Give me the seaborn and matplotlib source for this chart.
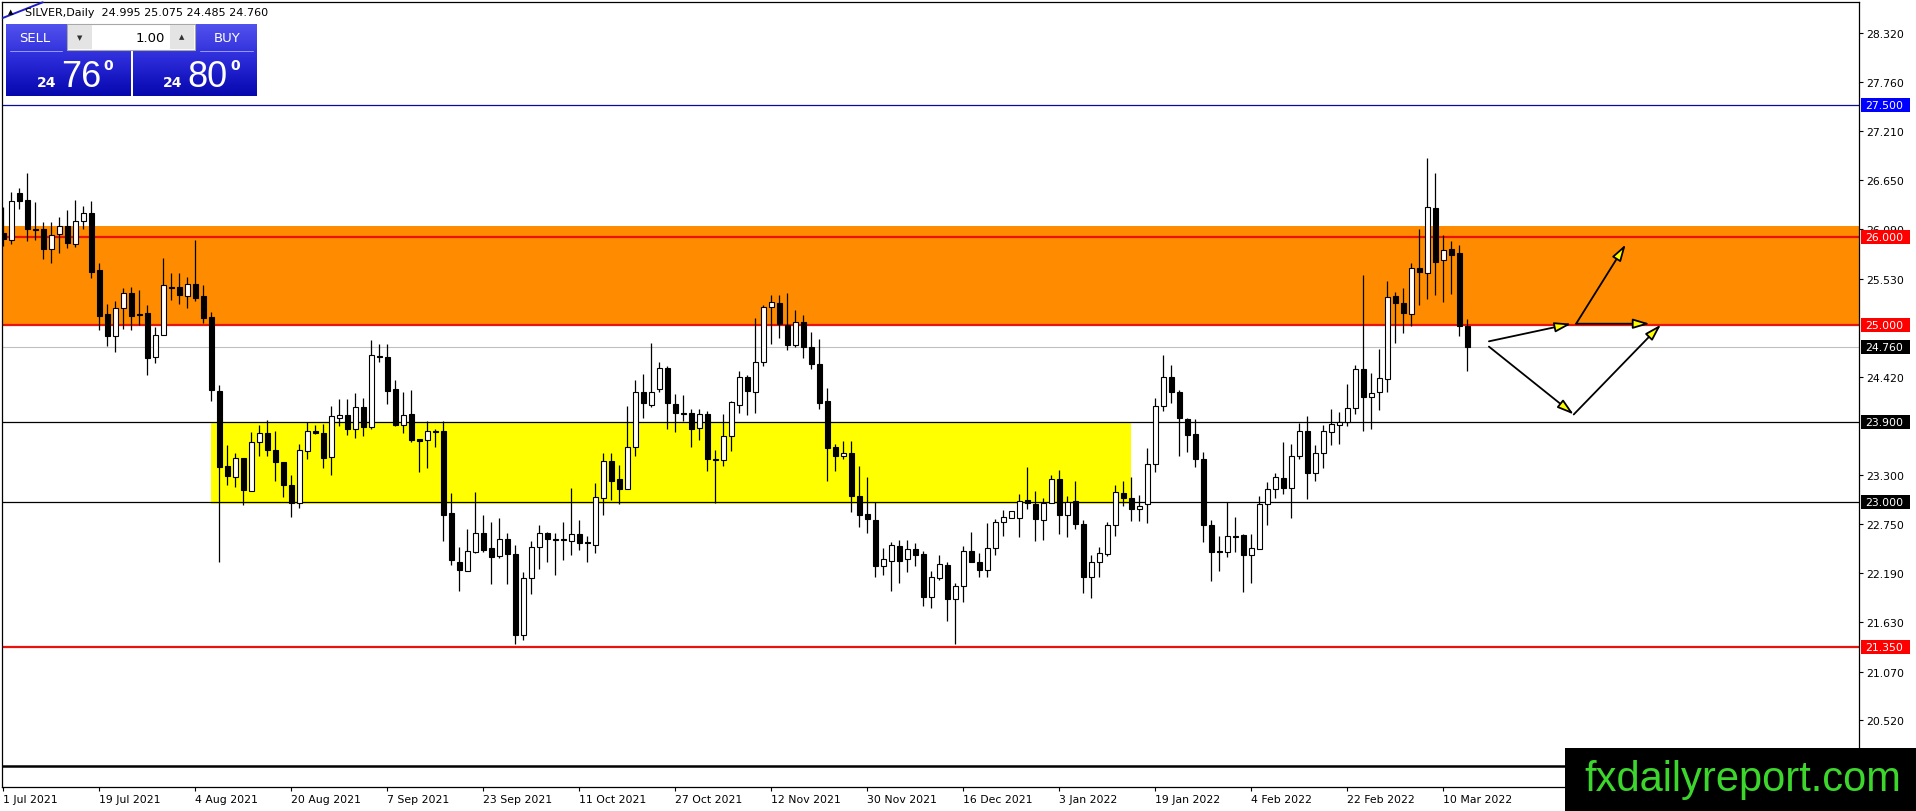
import numpy as np
import pandas as pd
import matplotlib
matplotlib.use("Agg")
import matplotlib.pyplot as plt
import matplotlib.transforms as mtransforms
from matplotlib.patches import Rectangle, FancyArrowPatch
from matplotlib.colors import LinearSegmentedColormap
import seaborn as sns

# daily OHLC, one value per weekday from 1 Jul 2021 to 15 Mar 2022
opens = [
    26.05, 25.97, 26.50, 26.42, 26.10, 26.09, 25.87, 26.04, 26.13, 25.93, 26.19, 26.28,
    25.63, 25.13, 24.88, 25.20, 25.37, 25.13, 25.14, 24.64, 24.89, 25.44, 25.44, 25.34,
    25.47, 25.34, 25.10, 24.26, 23.40, 23.28, 23.50, 23.12, 23.68, 23.78, 23.59, 23.45,
    23.19, 22.98, 23.58, 23.80, 23.78, 23.51, 23.95, 23.98, 23.83, 24.08, 23.85, 24.65,
    24.64, 24.28, 23.87, 24.00, 23.71, 23.70, 23.80, 23.80, 22.87, 22.32, 22.21, 22.43,
    22.64, 22.47, 22.38, 22.58, 22.41, 21.49, 22.13, 22.48, 22.64, 22.58, 22.58, 22.55,
    22.63, 22.54, 22.51, 23.04, 23.46, 23.26, 23.14, 23.62, 24.24, 24.10, 24.28, 24.52,
    24.11, 24.01, 24.01, 23.84, 24.00, 23.49, 23.47, 23.74, 24.10, 24.41, 24.25, 24.58,
    25.21, 25.26, 25.01, 24.78, 25.04, 24.75, 24.56, 24.14, 23.62, 23.52, 23.55, 23.07,
    22.86, 22.79, 22.27, 22.33, 22.50, 22.35, 22.46, 22.41, 21.92, 22.13, 22.28, 21.89,
    22.04, 22.44, 22.31, 22.23, 22.47, 22.77, 22.81, 22.82, 23.02, 22.97, 22.79, 22.99,
    23.26, 22.85, 23.01, 22.75, 22.15, 22.31, 22.41, 22.73, 23.10, 23.04, 22.92, 22.97,
    23.43, 24.09, 24.42, 24.24, 23.94, 23.77, 23.48, 22.74, 22.44, 22.43, 22.61, 22.62,
    22.39, 22.46, 22.97, 23.14, 23.27, 23.15, 23.52, 23.80, 23.32, 23.55, 23.79, 23.87,
    23.90, 24.06, 24.51, 24.19, 24.24, 24.39, 25.33, 25.26, 25.13, 25.65, 25.60, 26.33,
    25.74, 25.87, 25.82, 24.995,
]
highs = [
    26.35, 26.52, 26.56, 26.73, 26.40, 26.18, 26.17, 26.23, 26.31, 26.42, 26.36, 26.41,
    25.71, 25.24, 25.28, 25.42, 25.44, 25.40, 25.23, 24.98, 25.77, 25.59, 25.59, 25.55,
    25.97, 25.46, 25.15, 24.33, 23.64, 23.55, 23.50, 23.79, 23.87, 23.93, 23.80, 23.45,
    23.30, 23.66, 23.91, 23.87, 23.88, 24.09, 24.17, 24.17, 24.23, 24.18, 24.83, 24.79,
    24.79, 24.38, 24.25, 24.27, 23.71, 23.92, 23.82, 23.92, 23.10, 22.48, 22.69, 23.11,
    22.85, 22.77, 22.81, 22.64, 22.51, 22.20, 22.55, 22.73, 22.66, 22.65, 22.77, 23.15,
    22.79, 22.61, 23.21, 23.55, 23.55, 23.42, 24.09, 24.38, 24.45, 24.80, 24.59, 24.54,
    24.22, 24.21, 24.05, 24.05, 24.03, 23.59, 24.00, 24.14, 24.48, 24.44, 25.09, 25.23,
    25.35, 25.35, 25.37, 25.17, 25.12, 24.93, 24.85, 24.29, 23.66, 23.69, 23.69, 23.40,
    23.28, 23.00, 22.47, 22.54, 22.57, 22.57, 22.53, 22.44, 22.21, 22.39, 22.31, 22.08,
    22.50, 22.66, 22.42, 22.76, 22.80, 22.91, 22.89, 23.09, 23.39, 23.12, 23.04, 23.30,
    23.36, 23.06, 23.23, 22.79, 22.40, 22.48, 22.77, 23.19, 23.23, 23.28, 23.08, 23.61,
    24.18, 24.66, 24.55, 24.27, 23.95, 23.94, 23.56, 22.79, 22.61, 23.00, 22.83, 22.63,
    22.63, 23.07, 23.22, 23.33, 23.68, 23.66, 23.89, 23.97, 23.64, 23.87, 24.05, 24.02,
    24.34, 24.55, 25.57, 24.46, 24.73, 25.51, 25.38, 25.43, 25.71, 26.10, 26.90, 26.73,
    26.03, 25.96, 25.91, 25.075,
]
lows = [
    25.90, 25.93, 26.32, 25.96, 25.97, 25.76, 25.71, 25.82, 25.88, 25.89, 26.10, 25.54,
    24.95, 24.77, 24.70, 24.96, 24.95, 25.00, 24.44, 24.57, 24.89, 25.29, 25.24, 25.20,
    25.28, 25.03, 24.14, 22.32, 23.19, 23.17, 22.96, 23.12, 23.52, 23.52, 23.24, 23.05,
    22.83, 22.93, 23.48, 23.77, 23.38, 23.30, 23.86, 23.76, 23.72, 23.74, 23.83, 24.59,
    24.11, 23.86, 23.78, 23.68, 23.34, 23.38, 23.62, 22.55, 22.28, 21.99, 22.21, 22.42,
    22.43, 22.07, 22.36, 22.07, 21.38, 21.43, 21.95, 22.24, 22.32, 22.17, 22.34, 22.39,
    22.45, 22.31, 22.42, 22.85, 23.02, 22.97, 23.14, 23.52, 23.95, 24.07, 24.25, 23.83,
    23.79, 23.92, 23.62, 23.70, 23.35, 22.98, 23.40, 23.57, 24.01, 23.98, 24.01, 24.54,
    24.79, 24.86, 24.72, 24.75, 24.63, 24.51, 24.05, 23.23, 23.35, 23.48, 22.88, 22.71,
    22.65, 22.14, 22.17, 21.99, 22.08, 22.20, 22.27, 21.82, 21.79, 22.11, 21.65, 21.38,
    21.86, 22.32, 22.15, 22.14, 22.40, 22.61, 22.81, 22.60, 22.92, 22.55, 22.56, 22.98,
    22.63, 22.60, 22.69, 21.96, 21.91, 22.15, 22.38, 22.61, 22.95, 22.78, 22.78, 22.76,
    23.34, 24.03, 24.12, 23.52, 23.56, 23.39, 22.54, 22.10, 22.21, 22.37, 22.43, 21.97,
    22.08, 22.46, 22.73, 23.04, 23.09, 22.82, 23.48, 23.03, 23.23, 23.38, 23.64, 23.65,
    23.86, 23.99, 23.80, 23.83, 24.04, 24.24, 24.80, 24.92, 24.99, 25.23, 25.30, 25.35,
    25.27, 25.36, 24.88, 24.485,
]
closes = [
    25.98, 26.41, 26.41, 26.09, 26.08, 25.87, 26.03, 26.13, 25.94, 26.19, 26.28, 25.61,
    25.11, 24.88, 25.20, 25.37, 25.11, 25.12, 24.63, 24.89, 25.46, 25.42, 25.35, 25.47,
    25.31, 25.08, 24.27, 23.39, 23.29, 23.50, 23.13, 23.68, 23.78, 23.59, 23.45, 23.19,
    22.98, 23.59, 23.80, 23.78, 23.50, 23.97, 23.98, 23.83, 24.08, 23.85, 24.66, 24.64,
    24.26, 23.87, 23.98, 23.70, 23.69, 23.80, 23.79, 22.85, 22.34, 22.22, 22.44, 22.64,
    22.45, 22.37, 22.58, 22.41, 21.49, 22.13, 22.48, 22.64, 22.58, 22.57, 22.57, 22.63,
    22.53, 22.53, 23.05, 23.46, 23.24, 23.14, 23.62, 24.24, 24.12, 24.25, 24.52, 24.12,
    24.01, 24.00, 23.83, 24.00, 23.48, 23.47, 23.74, 24.13, 24.41, 24.26, 24.59, 25.21,
    25.27, 25.02, 24.78, 25.04, 24.75, 24.56, 24.12, 23.61, 23.52, 23.55, 23.07, 22.85,
    22.80, 22.27, 22.35, 22.51, 22.33, 22.46, 22.39, 21.92, 22.15, 22.29, 21.90, 22.04,
    22.44, 22.32, 22.23, 22.47, 22.77, 22.83, 22.89, 23.01, 22.98, 22.80, 22.98, 23.26,
    22.85, 23.00, 22.75, 22.15, 22.32, 22.42, 22.74, 23.11, 23.04, 22.92, 22.95, 23.43,
    24.09, 24.42, 24.25, 23.95, 23.76, 23.48, 22.73, 22.43, 22.43, 22.61, 22.60, 22.39,
    22.47, 22.97, 23.14, 23.28, 23.16, 23.52, 23.80, 23.32, 23.55, 23.80, 23.88, 23.90,
    24.06, 24.51, 24.19, 24.23, 24.40, 25.32, 25.25, 25.14, 25.65, 25.61, 26.34, 25.72,
    25.86, 25.80, 24.99, 24.76,
]

date_labels = ["1 Jul 2021", "19 Jul 2021", "4 Aug 2021", "20 Aug 2021", "7 Sep 2021",
               "23 Sep 2021", "11 Oct 2021", "27 Oct 2021", "12 Nov 2021", "30 Nov 2021",
               "16 Dec 2021", "3 Jan 2022", "19 Jan 2022", "4 Feb 2022", "22 Feb 2022",
               "10 Mar 2022"]
price_ticks = [28.32, 27.76, 27.21, 26.65, 26.09, 25.53, 24.42, 23.30, 22.75,
               22.19, 21.63, 21.07, 20.52]

resistance_zone = [25.00, 26.13]
support_zone = [22.97, 23.90]
support_zone_bars = [26, 141]
blue_level = 27.50
red_levels = [26.00, 25.00, 21.35]
black_levels = [23.90, 23.00]
bid_level = 24.76
bottom_level = 20.00

# projected path arrows: (bar0, price0, bar1, price1)
arrows = [
    (185.7, 24.82, 196.0, 25.02),
    (196.6, 25.02, 202.8, 25.92),
    (196.6, 25.02, 205.8, 25.02),
    (185.7, 24.76, 196.3, 23.99),
    (196.3, 23.99, 207.2, 25.01),
]

df = pd.DataFrame({"open": opens, "high": highs, "low": lows, "close": closes})
df["bar"] = np.arange(len(df))
df["up"] = df["close"] >= df["open"]

sns.set_theme(style="white")
plt.rcParams["font.family"] = ["DejaVu Sans"]

W, H = 1916, 812
fig = plt.figure(figsize=(W / 100, H / 100), dpi=100)
fig.patch.set_facecolor("white")

ax_l, ax_r, ax_t, ax_b = 2.0, 1859.0, 2.7, 788.3
ax = fig.add_axes([ax_l / W, 1 - ax_b / H, (ax_r - ax_l) / W, (ax_b - ax_t) / H])
ax.set_facecolor("white")
ax.set_xlim(-0.17, 231.96)
ax.set_ylim(19.758, 28.675)

# zones
ax.axhspan(resistance_zone[0], resistance_zone[1], color="#ff8c00", lw=0, zorder=0)
ax.fill_between(support_zone_bars, support_zone[0], support_zone[1],
                color="#ffff00", lw=0, zorder=0)

# levels
ax.axhline(blue_level, color="#0a0aa0", lw=0.9, zorder=1)
for lvl in red_levels:
    ax.axhline(lvl, color="#e8130a", lw=1.6, zorder=1)
for lvl in black_levels:
    ax.axhline(lvl, color="black", lw=0.9, zorder=1)
ax.axhline(bid_level, color="#c0c0c0", lw=0.8, zorder=1)
ax.axhline(bottom_level, color="black", lw=1.8, zorder=1)

# candles
ax.vlines(df["bar"], df["low"], df["high"], color="black", lw=0.9, zorder=2)
body = (df["close"] - df["open"]).to_numpy()
ax.bar(df["bar"], body, bottom=df["open"], width=0.62,
       color=np.where(df["up"], "white", "black"), edgecolor="black",
       linewidth=0.8, zorder=3)

# arrows
for x0, y0, x1, y1 in arrows:
    ax.add_patch(FancyArrowPatch((x0, y0), (x1, y1),
                                 arrowstyle="-|>,head_length=10,head_width=3",
                                 mutation_scale=1, fc="#ffff00", ec="black",
                                 lw=1.3, shrinkA=0, shrinkB=0, zorder=5))

# axes, ticks
for sp in ax.spines.values():
    sp.set_visible(True)
    sp.set_color("black")
    sp.set_linewidth(0.9)
ax.set_xticks(df["bar"].iloc[::12])
ax.set_xticklabels(date_labels, ha="left")
ax.set_yticks(price_ticks)
ax.set_yticklabels([f"{p:.3f}" for p in price_ticks])
ax.tick_params(axis="x", bottom=True, length=3, width=0.8, direction="out",
               pad=2, labelsize=7.8, colors="black")
ax.tick_params(axis="y", left=False, right=True, labelleft=False, labelright=True,
               length=3, width=0.8, direction="out", pad=2.5, labelsize=7.8,
               colors="black")
ax.grid(False)

# price tags on the right scale
trans = mtransforms.blended_transform_factory(ax.transAxes, ax.transData)
unit = (28.675 - 19.758) / (ax_b - ax_t)
tags = [(blue_level, "#0000ff")] + [(l, "#ff0000") for l in red_levels] + \
       [(bid_level, "black")] + [(l, "black") for l in black_levels]
for lvl, col in tags:
    ax.add_patch(Rectangle(((1861 - ax_l) / (ax_r - ax_l), lvl - 7 * unit),
                           49 / (ax_r - ax_l), 14 * unit, transform=trans,
                           fc=col, ec="none", clip_on=False, zorder=10))
    ax.text((1865.5 - ax_l) / (ax_r - ax_l), lvl, f"{lvl:.3f}", transform=trans,
            ha="left", va="center", fontsize=7.8, color="white", zorder=11,
            clip_on=False)

# overlay in pixel space: header, trade panel, watermark
ov = fig.add_axes([0, 0, 1, 1], facecolor="none")
ov.set_zorder(10)
ov.axis("off")

ov.plot([2.7, 42.7], [19, 3.3], color="#1e1ec8", lw=1.4)
ov.text(11, 12.5, "\u25b2", fontsize=5, ha="center", va="center", color="black")
ov.text(25, 13, "SILVER,Daily  24.995 25.075 24.485 24.760", fontsize=8,
        ha="left", va="center", color="black")

grad = LinearSegmentedColormap.from_list("btn", ["#5252ee", "#2a2ad8", "#0707ae"])
g = np.linspace(0, 1, 128).reshape(-1, 1)
for x0, x1 in [(6, 131), (133, 257)]:
    ov.imshow(g, cmap=grad, extent=(x0, x1, 97, 25), aspect="auto", zorder=1)
ov.plot([10, 62], [52, 52], color="#9a9aff", lw=0.7, zorder=2)
ov.plot([200, 253], [52, 52], color="#9a9aff", lw=0.7, zorder=2)
ov.add_patch(Rectangle((67, 25), 128, 26, fc="white", ec="#a8a8a8", lw=0.8, zorder=2))
ov.add_patch(Rectangle((68, 26), 24, 24, fc="#e4e4e4", ec="none", zorder=3))
ov.add_patch(Rectangle((170, 26), 24, 24, fc="#e4e4e4", ec="none", zorder=3))
ov.text(80, 38, "\u25bc", fontsize=5, ha="center", va="center", color="#303030", zorder=4)
ov.text(182, 37, "\u25b2", fontsize=5, ha="center", va="center", color="#303030", zorder=4)
ov.text(165, 38, "1.00", fontsize=9.5, ha="right", va="center", color="black", zorder=4)
ov.text(35, 38, "SELL", fontsize=9.5, ha="center", va="center", color="white", zorder=4)
ov.text(227, 38, "BUY", fontsize=9.5, ha="center", va="center", color="white", zorder=4)
for cx, big, small_x, sup_x in [(81.5, "76", 47, 108), (207.5, "80", 173, 235)]:
    ov.text(cx, 87.3, big, fontsize=26, family="Liberation Sans", ha="center",
            va="baseline", color="white", zorder=4)
    ov.text(small_x, 87.3, "24", fontsize=10, fontweight="bold", ha="center",
            va="baseline", color="white", zorder=4)
    ov.text(sup_x, 70, "0", fontsize=10, fontweight="bold", ha="center",
            va="baseline", color="white", zorder=4)

ov.add_patch(Rectangle((1565, 749), W - 1565, H - 749, fc="black", ec="none", zorder=5))
ov.text(1742.5, 791.5, "fxdailyreport.com", fontsize=30, family="Liberation Sans",
        ha="center", va="baseline", color="#3cd62c", zorder=6)

ov.set_xlim(0, W)
ov.set_ylim(H, 0)

fig.savefig("out.png", dpi=100)
